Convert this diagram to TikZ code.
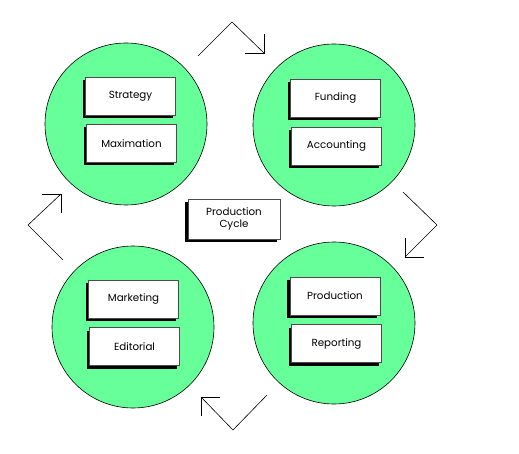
\documentclass[tikz,border=0pt]{standalone}
\usepackage{fontspec}
\setmainfont{Poppins}
\usetikzlibrary{shadows}
\definecolor{cgreen}{HTML}{66FF99}
\begin{document}
\begin{tikzpicture}[x=1pt,y=-1pt,
  circ/.style={circle,draw=black,line width=0.6pt,fill=cgreen,minimum size=162pt,inner sep=0pt},
  box/.style={rectangle,draw=black!70,line width=0.5pt,fill=white,minimum width=90pt,minimum height=38pt,inner sep=0pt,
    font=\fontsize{10.3}{12}\selectfont,align=center,
    drop shadow={shadow xshift=-3pt,shadow yshift=-3pt,opacity=1,fill=black}},
  cyc/.style={draw=black,line width=0.6pt}]
\useasboundingbox (0,0) rectangle (519,454);
\node[circ] (c1) at (126,124) {};
\node[circ] (c2) at (334,125) {};
\node[circ] (c3) at (133,327) {};
\node[circ] (c4) at (334,323) {};
\node[box] (strategy) at (130.5,96) {Strategy};
\node[box] (maxim) at (131.5,143.5) {Maximation};
\node[box] (funding) at (335.5,98) {Funding};
\node[box] (account) at (336.5,146) {Accounting};
\node[box] (market) at (133.5,299) {Marketing};
\node[box] (editor) at (134.5,346.5) {Editorial};
\node[box] (product) at (335,296) {Production};
\node[box] (report) at (336.5,343.5) {Reporting};
\node[box,minimum width=92pt,minimum height=40pt] (cycle) at (234,219) {Production\\Cycle};
% cycle arrows
\draw[cyc] (198,56) -- (232,22) -- (264,53);
\draw[cyc] (245,53) -- (264,53) -- (264,34);
\draw[cyc] (403,192) -- (437,225) -- (405,257);
\draw[cyc] (405,238) -- (405,257) -- (424,257);
\draw[cyc] (267,395) -- (233,430) -- (201,397);
\draw[cyc] (220,397) -- (201,397) -- (201,416);
\draw[cyc] (63,260) -- (28,225) -- (61,194);
\draw[cyc] (42,194) -- (61,194) -- (61,213);
\end{tikzpicture}
\end{document}
